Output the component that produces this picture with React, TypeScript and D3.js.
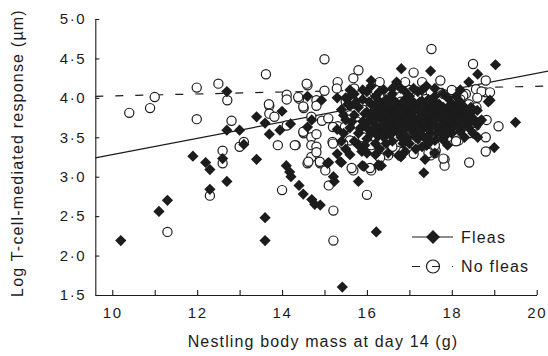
import { useEffect, useRef } from "react";
import * as d3 from "d3";

const WIDTH = 548;
const HEIGHT = 356;

// Fleas group (filled diamonds): [body mass at day 14 (g), log T-cell response]
const fleasPoints: [number, number][] = [
  [10.2, 2.19], [11.1, 2.56], [11.3, 2.7], [11.9, 3.26], [12.2, 3.18], [12.3, 3.09],
  [12.3, 2.84], [12.6, 3.23], [12.7, 4.08], [12.7, 3.59], [12.7, 2.94], [13.0, 3.59],
  [13.1, 3.41], [13.4, 3.76], [13.4, 3.22], [13.6, 3.68], [13.7, 3.54], [13.6, 2.48],
  [13.6, 2.19], [14.0, 3.83], [13.95, 3.59], [14.1, 3.14], [14.18, 3.06], [14.21, 3.0],
  [14.4, 2.89], [14.5, 2.78], [14.7, 2.71], [14.77, 2.65], [14.9, 2.64], [14.6, 4.02],
  [14.6, 3.63], [14.2, 3.67], [14.7, 3.72], [14.93, 3.97], [15.1, 3.18], [15.23, 2.94],
  [15.42, 1.6], [16.22, 2.3], [16.34, 3.14], [15.93, 3.13], [15.8, 2.94], [15.4, 3.18],
  [15.3, 3.29], [15.37, 3.19], [15.88, 3.32], [16.27, 3.15], [15.21, 3.0], [15.07, 3.17],
  [16.1, 4.22], [16.7, 4.2], [16.81, 4.37], [17.5, 4.34], [18.4, 4.2], [18.61, 4.3],
  [19.03, 4.42], [19.5, 3.69], [19.0, 3.37], [18.61, 3.5], [18.9, 3.97], [18.86, 3.95],
  [17.34, 3.05], [17.37, 3.22], [16.8, 3.25], [17.79, 3.47], [18.0, 3.67], [18.66, 3.7],
  [18.5, 3.84], [17.41, 3.4], [16.74, 3.27], [16.28, 3.14], [15.89, 3.14],
  [15.4, 3.85], [15.5, 3.72], [15.5, 4.0], [15.6, 3.62], [15.6, 3.9], [15.7, 3.78],
  [15.7, 4.05], [15.8, 3.55], [15.8, 3.88], [15.9, 3.7], [15.9, 3.98], [16.0, 3.48],
  [16.0, 3.62], [16.0, 3.82], [16.0, 4.08], [16.1, 3.55], [16.1, 3.74], [16.1, 3.92],
  [16.2, 3.42], [16.2, 3.66], [16.2, 3.86], [16.2, 4.02], [16.3, 3.58], [16.3, 3.78],
  [16.3, 3.95], [16.4, 3.5], [16.4, 3.7], [16.4, 3.88], [16.4, 4.1], [16.5, 3.62],
  [16.5, 3.8], [16.5, 3.97], [16.6, 3.45], [16.6, 3.68], [16.6, 3.85], [16.6, 4.05],
  [16.7, 3.58], [16.7, 3.76], [16.7, 3.93], [16.8, 3.5], [16.8, 3.7], [16.8, 3.87],
  [16.8, 4.12], [16.9, 3.62], [16.9, 3.8], [16.9, 3.98], [17.0, 3.42], [17.0, 3.66],
  [17.0, 3.84], [17.0, 4.02], [17.1, 3.56], [17.1, 3.74], [17.1, 3.92], [17.2, 3.48],
  [17.2, 3.68], [17.2, 3.86], [17.2, 4.08], [17.3, 3.6], [17.3, 3.78], [17.3, 3.96],
  [17.4, 3.4], [17.4, 3.7], [17.4, 3.88], [17.4, 4.15], [17.5, 3.55], [17.5, 3.76],
  [17.5, 3.95], [17.6, 3.46], [17.6, 3.66], [17.6, 3.84], [17.6, 4.02], [17.7, 3.58],
  [17.7, 3.78], [17.7, 3.92], [17.8, 3.5], [17.8, 3.7], [17.8, 3.88], [17.9, 3.62],
  [17.9, 3.82], [17.9, 4.0], [18.0, 3.55], [18.0, 3.76], [18.0, 3.93], [18.1, 3.66],
  [18.1, 3.85], [18.2, 3.58], [18.2, 3.78], [18.2, 3.95], [18.3, 3.7], [18.3, 3.88],
  [18.4, 3.62], [18.4, 3.8], [18.5, 3.74], [18.6, 3.66], [18.6, 3.84], [18.7, 3.72],
  [15.3, 3.6], [15.4, 3.45], [15.5, 3.35], [15.6, 3.28], [15.3, 4.0], [15.6, 4.1],
  [16.1, 4.15], [16.3, 3.35], [16.5, 3.3], [16.9, 3.32], [17.3, 3.38], [17.6, 3.3],
  [17.9, 3.4], [18.3, 3.5], [18.5, 3.55], [16.0, 3.3], [15.8, 3.4],
  [15.45, 3.78], [15.55, 3.92], [15.65, 3.7], [15.75, 3.95], [15.85, 3.62], [15.95, 3.8],
  [16.05, 3.7], [16.05, 3.95], [16.15, 3.6], [16.15, 3.83], [16.25, 3.52], [16.25, 3.75],
  [16.25, 3.94], [16.35, 3.65], [16.35, 3.86], [16.45, 3.58], [16.45, 3.78], [16.45, 3.98],
  [16.55, 3.53], [16.55, 3.72], [16.55, 3.9], [16.65, 3.6], [16.65, 3.8], [16.65, 3.96],
  [16.75, 3.66], [16.75, 3.85], [16.85, 3.58], [16.85, 3.78], [16.85, 3.95], [16.95, 3.5],
  [16.95, 3.72], [16.95, 3.9], [17.05, 3.6], [17.05, 3.8], [17.05, 3.97], [17.15, 3.5],
  [17.15, 3.66], [17.15, 3.85], [17.25, 3.58], [17.25, 3.76], [17.25, 3.95], [17.35, 3.5],
  [17.35, 3.68], [17.35, 3.86], [17.45, 3.6], [17.45, 3.8], [17.45, 3.98], [17.55, 3.66],
  [17.55, 3.86], [17.65, 3.56], [17.65, 3.74], [17.65, 3.92], [17.75, 3.65], [17.75, 3.85],
  [17.85, 3.6], [17.85, 3.78], [17.95, 3.7], [17.95, 3.9], [18.05, 3.64], [18.05, 3.84],
  [18.15, 3.72], [18.15, 3.92], [18.25, 3.66], [18.25, 3.86], [18.35, 3.78], [18.45, 3.7],
  [18.45, 3.88],
  [15.6, 4.02], [15.9, 4.1], [16.3, 4.08], [16.6, 4.12], [16.9, 4.08], [17.1, 4.12],
  [17.3, 4.1], [17.6, 4.12], [17.8, 4.05], [18.1, 4.02], [18.2, 4.1], [15.45, 3.55],
  [15.7, 3.45], [15.95, 3.4], [16.2, 3.28], [16.45, 3.42], [16.85, 3.42], [17.15, 3.35],
  [17.5, 3.45], [17.85, 3.52],
];

// No fleas group (open circles)
const noFleasPoints: [number, number][] = [
  [10.4, 3.81], [10.89, 3.87], [11.0, 4.01], [11.3, 2.3], [11.99, 4.13], [11.99, 3.73],
  [12.5, 4.18], [12.3, 2.76], [12.6, 3.33], [12.6, 3.17], [12.71, 3.97], [12.81, 3.71],
  [13.0, 3.38], [13.1, 3.44], [13.62, 4.3], [13.7, 3.9], [13.7, 3.8], [13.82, 3.76],
  [13.9, 3.4], [14.0, 2.83], [14.11, 4.04], [14.11, 3.98], [14.11, 3.65], [14.32, 3.4],
  [14.4, 3.99], [14.51, 3.87], [14.51, 3.55], [14.6, 4.16], [14.6, 3.17], [14.69, 3.76],
  [14.69, 3.5], [14.69, 3.4], [14.69, 3.25], [14.81, 3.97], [14.81, 3.9], [14.81, 3.54],
  [14.81, 3.38], [14.81, 3.31], [14.9, 3.17], [14.94, 3.71], [15.0, 4.49], [15.0, 4.09],
  [15.02, 3.08], [15.1, 2.89], [15.19, 3.44], [15.21, 2.57], [15.21, 2.19], [15.31, 4.2],
  [15.29, 4.12], [15.31, 3.64], [15.52, 3.63], [15.6, 3.46], [15.68, 3.08], [15.8, 4.35],
  [15.68, 4.25], [16.0, 2.77], [16.1, 3.08], [16.3, 4.2], [16.3, 3.33], [16.5, 3.27],
  [16.71, 3.33], [17.1, 3.29], [17.1, 4.32], [17.52, 4.62], [17.73, 4.22], [17.62, 3.33],
  [17.5, 3.27], [17.83, 3.22], [17.83, 3.14], [18.16, 3.46], [18.41, 3.18], [18.5, 4.43],
  [18.57, 4.11], [18.58, 3.88], [18.57, 3.65], [18.8, 4.22], [18.8, 4.07], [18.7, 4.08],
  [18.8, 3.5], [18.8, 3.32], [18.9, 4.07], [19.1, 3.64], [18.16, 3.63], [18.08, 3.71],
  [18.33, 4.05], [18.27, 4.03], [18.82, 3.72], [18.03, 3.74], [18.19, 3.59], [17.96, 3.87],
  [14.58, 4.18], [14.38, 4.01], [14.5, 3.89], [14.5, 3.57], [14.3, 3.4], [14.62, 3.19],
  [14.89, 3.19], [15.2, 3.42], [15.44, 3.42], [15.2, 3.63], [15.48, 3.63], [15.76, 3.7],
  [15.09, 3.74], [15.64, 3.11], [16.07, 3.11], [16.31, 3.32], [16.47, 3.34], [16.31, 3.24],
  [16.86, 3.32], [17.45, 3.3], [17.6, 3.3], [17.8, 3.23], [13.69, 3.92],
  [15.5, 3.95], [15.6, 3.78], [15.7, 4.12], [15.8, 3.65], [15.9, 3.85], [16.0, 4.0],
  [16.0, 3.55], [16.1, 3.68], [16.2, 4.1], [16.2, 3.5], [16.3, 3.9], [16.4, 3.62],
  [16.5, 4.05], [16.5, 3.45], [16.6, 3.78], [16.7, 4.12], [16.7, 3.52], [16.8, 3.95],
  [16.9, 3.68], [17.0, 4.1], [17.0, 3.55], [17.1, 3.85], [17.2, 3.62], [17.2, 4.0],
  [17.3, 3.48], [17.4, 3.8], [17.5, 4.08], [17.5, 3.65], [17.6, 3.92], [17.7, 3.55],
  [17.8, 4.05], [17.8, 3.75], [17.9, 3.5], [18.0, 3.88], [18.0, 4.1], [18.1, 3.62],
  [18.2, 3.98], [18.3, 3.75], [18.4, 3.55], [18.4, 3.92], [18.5, 3.68], [18.6, 4.0],
  [16.1, 3.4], [16.6, 3.38], [17.1, 3.42], [17.6, 3.4], [18.1, 3.45], [15.9, 3.5],
  [16.9, 4.2], [17.3, 4.2],
];

// fitted regression lines (end points)
const fleasFit: [number, number][] = [[9.6, 3.24], [20.4, 4.353]];
const noFleasFit: [number, number][] = [[9.6, 4.02], [20.4, 4.152]];

const xTicks = [10, 11, 12, 13, 14, 15, 16, 17, 18, 19, 20];
const yTicks = [1.5, 2.0, 2.5, 3.0, 3.5, 4.0, 4.5, 5.0];
const legendItems = ["Fleas", "No fleas"];

const FONT = "'Liberation Sans', Arial, Helvetica, sans-serif";
const INK = "#1c1c1c";

export default function App() {
  const svgRef = useRef<SVGSVGElement | null>(null);

  useEffect(() => {
    const svg = d3.select(svgRef.current);
    svg.selectAll("*").remove();

    const xScale = d3.scaleLinear().domain([9.6, 20]).range([95.3, 536.7]);
    const yScale = d3.scaleLinear().domain([1.5, 5.0]).range([295, 19]);

    const diamond = (cx: number, cy: number, r: number) =>
      `M${cx},${cy - r}L${cx + r},${cy}L${cx},${cy + r}L${cx - r},${cy}Z`;

    // x axis (ticks point up into the plot)
    const xAxis = svg
      .append("g")
      .attr("transform", `translate(0,${yScale(1.5)})`)
      .call(
        d3
          .axisBottom(xScale)
          .tickValues(xTicks)
          .tickSizeInner(-5)
          .tickSizeOuter(0)
          .tickPadding(12)
          .tickFormat((d) => (+d % 2 === 0 ? String(d) : ""))
      );

    // y axis (ticks point right)
    const yAxis = svg
      .append("g")
      .attr("transform", `translate(${xScale(9.6)},0)`)
      .call(
        d3
          .axisLeft(yScale)
          .tickValues(yTicks)
          .tickSizeInner(-4)
          .tickSizeOuter(0)
          .tickPadding(9)
          .tickFormat((d) => d3.format(".1f")(+d).replace(".", "·"))
      );

    [xAxis, yAxis].forEach((ax) => {
      ax.selectAll("path, line").attr("stroke", INK).attr("stroke-width", 1.1);
      ax.selectAll("text")
        .attr("fill", INK)
        .style("font-family", FONT)
        .style("font-size", "15px")
        .style("letter-spacing", "1.6px");
    });

    // regression lines
    const line = d3
      .line<[number, number]>()
      .x((d) => xScale(d[0]))
      .y((d) => yScale(d[1]));

    svg.append("path")
      .datum(noFleasFit)
      .attr("fill", "none")
      .attr("stroke", INK)
      .attr("stroke-width", 1.2)
      .attr("stroke-dasharray", "8,12")
      .attr("d", line);

    svg.append("path")
      .datum(fleasFit)
      .attr("fill", "none")
      .attr("stroke", INK)
      .attr("stroke-width", 1.2)
      .attr("d", line);

    // open circles
    svg.append("g")
      .selectAll("circle")
      .data(noFleasPoints)
      .join("circle")
      .attr("cx", (d) => xScale(d[0]))
      .attr("cy", (d) => yScale(d[1]))
      .attr("r", 4.6)
      .attr("fill", "white")
      .attr("stroke", INK)
      .attr("stroke-width", 1.2);

    // filled diamonds
    svg.append("g")
      .selectAll("path")
      .data(fleasPoints)
      .join("path")
      .attr("d", (d) => diamond(xScale(d[0]), yScale(d[1]), 5.6))
      .attr("fill", INK);

    // legend
    const lg = svg.append("g");
    legendItems.forEach((label, i) => {
      const ly = 237 + i * 29.5;
      lg.append("line")
        .attr("x1", 412)
        .attr("x2", 453)
        .attr("y1", ly)
        .attr("y2", ly)
        .attr("stroke", INK)
        .attr("stroke-width", 1.2)
        .attr("stroke-dasharray", i === 0 ? null : "8,12");
      if (i === 0) {
        lg.append("path").attr("d", diamond(433, ly, 7)).attr("fill", INK);
      } else {
        lg.append("circle")
          .attr("cx", 433)
          .attr("cy", ly)
          .attr("r", 6.5)
          .attr("fill", "none")
          .attr("stroke", INK)
          .attr("stroke-width", 1.2);
      }
      lg.append("text")
        .attr("x", 461)
        .attr("y", ly + 5.5)
        .attr("fill", INK)
        .style("font-family", FONT)
        .style("font-size", "16px")
        .style("letter-spacing", "1.2px")
        .text(label);
    });

    // axis titles
    svg.append("text")
      .attr("x", 323)
      .attr("y", 347)
      .attr("text-anchor", "middle")
      .attr("fill", INK)
      .style("font-family", FONT)
      .style("font-size", "16px")
      .style("letter-spacing", "1.15px")
      .text("Nestling body mass at day 14 (g)");

    svg.append("text")
      .attr("transform", `translate(23,153) rotate(-90)`)
      .attr("text-anchor", "middle")
      .attr("fill", INK)
      .style("font-family", FONT)
      .style("font-size", "16px")
      .style("letter-spacing", "1.2px")
      .text("Log T-cell-mediated response (µm)");
  }, []);

  return (
    <svg
      ref={svgRef}
      width={WIDTH}
      height={HEIGHT}
      style={{ position: "absolute", left: 0, top: 0, background: "white" }}
    ></svg>
  );
}
